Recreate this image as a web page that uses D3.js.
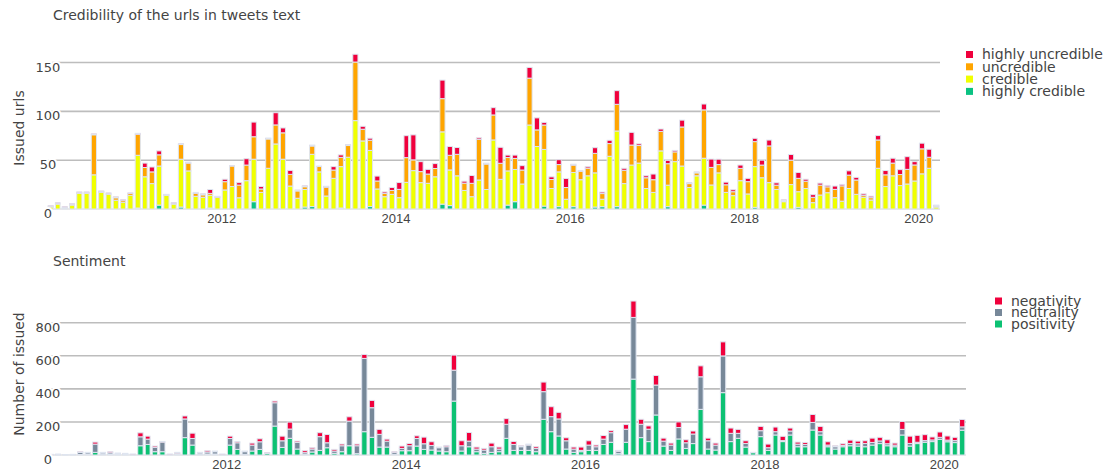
<!DOCTYPE html>
<html>
<head>
<meta charset="utf-8">
<script src="https://cdn.jsdelivr.net/npm/d3@7"></script>
<style>
  body { margin: 0; background: #fff; }
  svg { font-family: 'DejaVu Sans', Verdana, sans-serif; }
  .grid line { stroke: #bdbdbd; stroke-width: 1.6; }
  .grid .domain { display: none; }
  .ylab text { fill: #444; font-size: 13px; paint-order: stroke; stroke: #fff; stroke-width: 4px; }
  .xlab text { fill: #444; font-size: 13px; }
  .xlab .domain, .xlab line { display: none; }
  .bar { stroke: #dfe5f0; stroke-width: 1; }
</style>
</head>
<body>
<svg id="chart" width="1110" height="474"></svg>
<script>
// months Jan 2010 .. Mar 2020
const months = d3.timeMonth.range(new Date(2010, 0, 1), new Date(2020, 3, 1));
const yearTicks = [2012, 2014, 2016, 2018, 2020];

// credibility of the urls (issued urls per month)
const highlyCredible = [0,0,0,0,0,0,0,0,0,0,0,0,1,0,0,4,0,0,2,0,0,0,1,0,0,0,0,0,7.5,0,
  0,0,0,0,0,2,2.5,0,0,0,1,0,0,0,2.5,0,0,0,0,0,0,0,0,0,5,3.5,0,0,0,0,
  0,0,0,4,7.5,0,0,0,3,0,2.4,0,2.4,0,0,2,2.4,0,2.4,0,0,0,0,0,0,2.4,0,0,0,0,
  4,0,0,0,0,0,0,1.7,0,0,0,0,0,1.7,0,0,0,0,0,0,0,0,0,0,0,0,0,0,0,0,0,0,0];
const credible = [2,5,1,4,16,16,35,17,15,9,7,14,54,33,26,40,14,5,49,39,13,12,13,12,19.5,23,11.5,29,43.5,17,
  41.7,66.6,51,23.5,11,18,53.5,38,13.3,31.4,42.4,53,90.5,69.7,57.5,20.5,12.6,15,11.6,27.3,39.3,27,26.3,33,74,36.5,34,19,12.6,29.7,
  20,70.7,30.4,35,33,25.6,86,64,58,21,35.6,10,35,30,34,35,7.6,54,77.5,26,45,47,21,17,59.5,22,48.5,44,22,34,
  48,24.6,37,17,13.7,29,15.4,41.7,32,27,20,7.5,25,16,21,6.5,14.3,16.7,11.6,8,21,15,12,9.2,41.7,23,34,24,25.6,28.7,36,41.7,2];
const uncredible = [1,1,1,1,1,1,41,1,1,2.5,2,2,21.5,9.5,12,11.5,0.5,1,15,8,3,2.5,2,0,8.5,21,13,16,23,3.5,
  30,19.5,27,12,7.5,2.8,8.5,5.5,9,8.5,9.5,12,60,12,10.5,8.2,3.4,4,8.5,25.3,11,11.3,9.5,8.5,34,15,22,7.5,13.7,41.7,
  26,25.6,16.4,13.7,11.3,14.3,48,17,25,9.2,7.5,12,7.5,8.5,7.8,20,5.8,13,27.3,13.7,20.5,18,11,13,20,22,10,40,4,3,
  49.5,18,8.5,7.8,4,12.6,12.6,25.6,13,37.6,4.4,1,25,13.7,7.5,5.5,10.2,6,8.5,15.7,13.7,14.7,2,2.4,29,12,13,11.3,15,16.4,25.6,11.3,1];
const highlyUncredible = [0.3,0.5,0.3,0.5,0.5,0.5,1,0.5,0.5,1,0.5,0.5,1,4.5,5,4,0.5,0.5,1,1,1,1,4,1,2.5,0.5,2.5,6.5,15,2.5,
  1,12.5,5,4,1,1,1,0.5,1,3.5,2.5,1,8,3,2,5,1.5,3,7,22.5,25.6,10.2,4.8,5,19,9,7,2,8,1.5,
  1,7.5,16.4,2.5,3.4,4.5,11,12.3,2.7,2.7,5,9.2,1,1,1.5,5.8,1.5,3.4,14,2,13,1.7,2,5.8,2.4,3.4,1.5,7,1,1,
  6,8.5,5.5,2.7,2,3.4,3.4,3.4,5,6,2.4,1,5.8,6,2,2.7,2,1.5,3.4,1.5,4.4,2.7,1.5,1.5,4.5,4.4,5,5,13,3.4,5.8,8.2,1];

// sentiment of the tweets per month
const positivity = [1,1,0,1,3,3,16,4,3,2,2,1,56,64,20,20,2,6,105,60,4,6,6,2,60,34,4,24,34,10,
  175,46,101,36,4,18,28,44,10,20,56,8,141,107,48,48,4,26,26,54,34,30,24,20,326,24,50,20,10,16,
  20,101,28,28,28,20,216,141,115,36,16,20,28,28,64,77,8,77,459,105,81,242,54,28,97,40,69,276,36,30,
  377,81,101,48,14,111,28,121,81,121,50,50,151,121,50,36,50,56,54,50,60,69,56,50,121,54,69,77,81,95,80,75,150];
const neutrality = [1,2,1,2,12,10,50,8,10,6,5,3,54,32,26,58,2,4,113,40,8,12,14,2,40,40,16,36,46,2,
  141,40,56,40,10,18,83,30,14,36,149,48,443,179,77,36,12,14,30,46,34,28,20,30,187,32,34,16,20,34,
  16,85,36,22,32,20,167,91,103,50,20,8,32,22,32,58,14,79,373,81,75,181,30,32,69,34,58,197,50,30,
  222,50,30,22,1,36,16,20,6,24,16,14,46,20,10,14,8,14,14,20,16,16,12,10,34,16,8,10,10,12,10,12,20];
const negativity = [2,3,2,1,5,3,12,4,7,4,3,2,24,18,8,4,2,6,18,32,4,8,4,2,14,8,4,12,18,2,
  10,28,42,8,12,8,24,50,10,10,26,10,24,44,30,12,4,14,14,16,40,22,4,8,91,30,52,12,10,22,
  12,34,18,6,6,10,58,60,40,18,12,20,26,10,22,12,6,28,99,30,20,58,18,12,34,18,18,66,16,12,
  85,32,24,16,1,26,22,28,26,18,12,12,48,32,20,6,10,20,16,16,26,22,24,12,48,44,42,36,18,32,25,20,45];

const cRed = '#f0003c', cOrange = '#ffa500', cYellow = '#f0ff00', cTeal = '#0ac282';
const cGray = '#778899', cGreen = '#0cc173';

const svg = d3.select('#chart');

function drawPanel(opts) {
  const { series, keys, colors, x, y, title, titleY, yTitle, yTitleY, yTicks, legend } = opts;
  const x0 = x.range()[0], x1 = x.range()[1];

  // gridlines
  const grid = svg.append('g').attr('class', 'grid');
  yTicks.forEach(t => {
    grid.append('line').attr('x1', x0).attr('x2', x1).attr('y1', y(t)).attr('y2', y(t))
      .style('stroke', t === 0 ? '#e2e2e2' : null);
  });

  const rows = months.map((m, i) => {
    const r = { date: m };
    keys.forEach((k, j) => r[k] = series[j][i]);
    return r;
  });
  const stacked = d3.stack().keys(keys)(rows);

  svg.append('g').selectAll('g')
    .data(stacked)
    .enter().append('g')
    .attr('fill', (d, j) => colors[j])
    .selectAll('rect')
    .data(d => d)
    .enter().append('rect')
    .attr('class', 'bar')
    .attr('x', d => {
      const a = x(d.data.date), b = x(d3.timeMonth.offset(d.data.date, 1));
      return a + (b - a) * 0.15;
    })
    .attr('width', d => {
      const a = x(d.data.date), b = x(d3.timeMonth.offset(d.data.date, 1));
      return (b - a) * 0.7;
    })
    .attr('y', d => y(d[1]))
    .attr('height', d => Math.max(0, y(d[0]) - y(d[1])));

  const ylab = svg.append('g').attr('class', 'ylab');
  yTicks.forEach(t => {
    ylab.append('text').attr('x', 48).attr('y', y(t) + 4.5).attr('dy', '0.35em')
      .attr('text-anchor', 'middle').text(t);
  });

  svg.append('g')
    .attr('class', 'xlab')
    .attr('transform', `translate(0,${y.range()[0] + 2})`)
    .call(d3.axisBottom(x)
      .tickValues(yearTicks.map(yy => new Date(yy, 0, 1)))
      .tickFormat(d3.timeFormat('%Y'))
      .tickSize(0)
      .tickPadding(3));

  svg.append('text').attr('x', 53).attr('y', titleY)
    .style('font-size', '14px').style('fill', '#444').text(title);

  svg.append('text')
    .attr('transform', `translate(24,${yTitleY}) rotate(-90)`)
    .attr('text-anchor', 'middle')
    .style('font-size', '14px').style('fill', '#444').text(yTitle);

  const lg = svg.append('g');
  legend.items.forEach((it, k) => {
    const cy = legend.y + k * legend.step;
    lg.append('rect').attr('x', legend.x).attr('y', cy - 3.5).attr('width', 7).attr('height', 7)
      .attr('fill', it.color);
    lg.append('text').attr('x', legend.x + 16).attr('y', cy).attr('dy', '0.35em')
      .style('font-size', '14px').style('fill', '#444').text(it.label);
  });
}

const xTop = d3.scaleTime()
  .domain([new Date(2010, 0, 1), new Date(2020, 3, 1)])
  .range([47, 940]);
const yTop = d3.scaleLinear().domain([0, 165.9]).range([209, 47]);

drawPanel({
  series: [highlyCredible, credible, uncredible, highlyUncredible],
  keys: ['hc', 'cr', 'un', 'hu'],
  colors: [cTeal, cYellow, cOrange, cRed],
  x: xTop, y: yTop,
  title: 'Credibility of the urls in tweets text', titleY: 20,
  yTitle: 'Issued urls', yTitleY: 128,
  yTicks: [0, 50, 100, 150],
  legend: { x: 966, y: 54.5, step: 12.3, items: [
    { label: 'highly uncredible', color: cRed },
    { label: 'uncredible', color: cOrange },
    { label: 'credible', color: cYellow },
    { label: 'highly credible', color: cTeal }
  ] }
});

const xBot = d3.scaleTime()
  .domain([new Date(2010, 0, 1), new Date(2020, 3, 1)])
  .range([47, 966]);
const yBot = d3.scaleLinear().domain([0, 979.6]).range([455, 293]);

drawPanel({
  series: [positivity, neutrality, negativity],
  keys: ['pos', 'neu', 'neg'],
  colors: [cGreen, cGray, cRed],
  x: xBot, y: yBot,
  title: 'Sentiment', titleY: 266,
  yTitle: 'Number of issued', yTitleY: 374,
  yTicks: [0, 200, 400, 600, 800],
  legend: { x: 995, y: 301, step: 11.5, items: [
    { label: 'negativity', color: cRed },
    { label: 'neutrality', color: cGray },
    { label: 'positivity', color: cGreen }
  ] }
});
</script>
</body>
</html>
